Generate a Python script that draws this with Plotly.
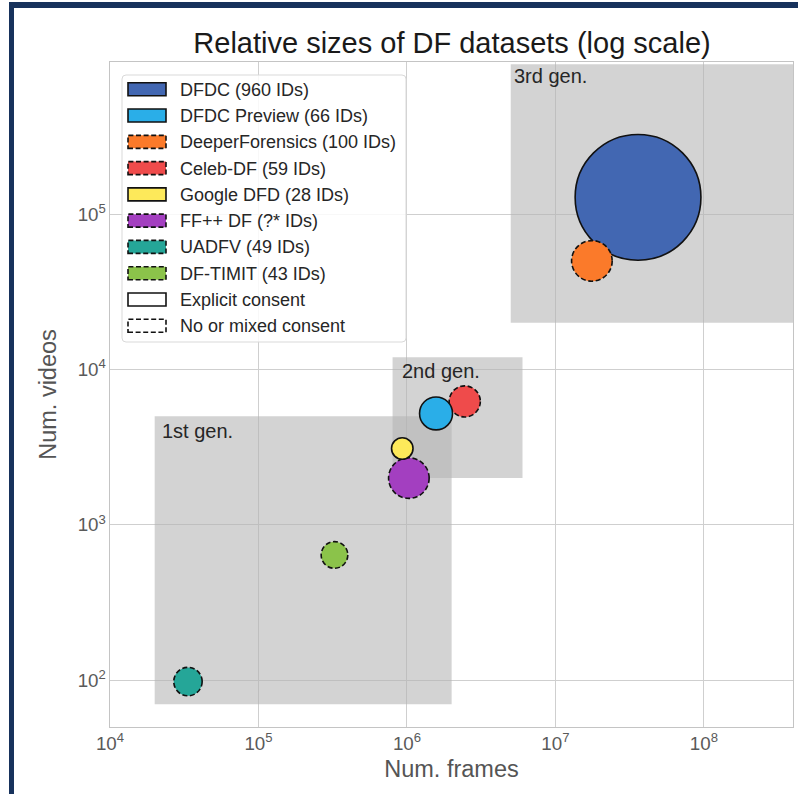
import numpy as np
import plotly.graph_objects as go

# ---------------- data ----------------
dataset_names = ["DFDC (960 IDs)", "DFDC Preview (66 IDs)", "DeeperForensics (100 IDs)",
                 "Celeb-DF (59 IDs)", "Google DFD (28 IDs)", "FF++ DF (?* IDs)",
                 "UADFV (49 IDs)", "DF-TIMIT (43 IDs)"]
num_frames = [3.6e7, 1.57e6, 1.76e7, 2.45e6, 9.3e5, 1.03e6, 3.35e4, 3.25e5]
num_videos = [128154, 5214, 50000, 6229, 3100, 2000, 98, 640]
num_ids = [960, 66, 100, 59, 28, 100, 49, 43]
explicit_consent = [True, True, False, False, True, False, False, False]
colors = ["#4267b2", "#2aaee8", "#fb7a2a", "#ef4b4b", "#fde95a", "#a33fc0", "#25a698", "#8bc34a"]
draw_order = [0, 2, 3, 1, 5, 4, 6, 7]

gen_labels = ["1st gen.", "2nd gen.", "3rd gen."]
gen_x0 = [2e4, 8e5, 5e6]
gen_x1 = [2e6, 6e6, 1e9]
gen_y0 = [70, 2e3, 2e4]
gen_y1 = [5e3, 1.2e4, 9.2e5]

consent_labels = ["Explicit consent", "No or mixed consent"]

# ---------------- layout geometry ----------------
W, H = 798, 794
ML, MR, MT, MB = 110, 5, 62, 67
PW, PH = W - ML - MR, H - MT - MB
FONT = "Liberation Sans, Arial, sans-serif"
XR = [4, 8.6]
YR = [1.699, 5.979]


def PX(p):
    return (p - ML) / PW


def PY(p):
    return (MT + PH - p) / PH


R_SCALE = 2.03
DASH = "5px,2.6px"

fig = go.Figure()
fig.add_trace(go.Scatter(x=num_frames, y=num_videos, mode="markers",
                         marker=dict(size=[2 * R_SCALE * np.sqrt(v) for v in num_ids], opacity=0),
                         text=dataset_names, hoverinfo="text+x+y", showlegend=False))
# helper (linear, log10-valued) overlay axes used to anchor the pixel-sized bubbles
fig.add_trace(go.Scatter(x=[None], y=[None], xaxis="x2", yaxis="y2", showlegend=False,
                         hoverinfo="skip"))

shapes = []
# generation regions
for i in range(3):
    shapes.append(dict(type="rect", xref="x", yref="y", x0=gen_x0[i], x1=gen_x1[i],
                       y0=gen_y0[i], y1=gen_y1[i], fillcolor="rgba(180,180,180,0.58)",
                       line=dict(width=0), layer="between"))
# bubbles (area proportional to number of identities)
for i in draw_order:
    r = R_SCALE * np.sqrt(num_ids[i])
    shapes.append(dict(type="circle", xref="x2", yref="y2", xsizemode="pixel", ysizemode="pixel",
                       xanchor=float(np.log10(num_frames[i])), yanchor=float(np.log10(num_videos[i])),
                       x0=-r, x1=r, y0=-r, y1=r, fillcolor=colors[i],
                       line=dict(color="#111111", width=1.6,
                                 dash="solid" if explicit_consent[i] else DASH),
                       layer="above"))

# legend box (rounded)
bx0, bx1, by0, by1, rr = 122, 406, 75, 342, 4
path = (f"M{PX(bx0+rr)},{PY(by0)} L{PX(bx1-rr)},{PY(by0)} Q{PX(bx1)},{PY(by0)} {PX(bx1)},{PY(by0+rr)} "
        f"L{PX(bx1)},{PY(by1-rr)} Q{PX(bx1)},{PY(by1)} {PX(bx1-rr)},{PY(by1)} "
        f"L{PX(bx0+rr)},{PY(by1)} Q{PX(bx0)},{PY(by1)} {PX(bx0)},{PY(by1-rr)} "
        f"L{PX(bx0)},{PY(by0+rr)} Q{PX(bx0)},{PY(by0)} {PX(bx0+rr)},{PY(by0)} Z")
shapes.append(dict(type="path", xref="paper", yref="paper", path=path,
                   fillcolor="rgba(255,255,255,0.85)", line=dict(color="#d9d9d9", width=1), layer="above"))

annotations = []
entries = [(dataset_names[i], colors[i], explicit_consent[i]) for i in range(len(dataset_names))]
entries += [(consent_labels[0], "white", True), (consent_labels[1], "white", False)]
cy0, dy = 89.3, 26.27
for k, (lab, col, solid) in enumerate(entries):
    cy = cy0 + k * dy
    shapes.append(dict(type="rect", xref="paper", yref="paper", x0=PX(128), x1=PX(166),
                       y0=PY(cy + 6.5), y1=PY(cy - 6.5), fillcolor=col,
                       line=dict(color="#111111", width=1.6, dash="solid" if solid else DASH),
                       layer="above"))
    annotations.append(dict(xref="paper", yref="paper", x=PX(178), y=PY(cy + 0.5), xanchor="left",
                            yanchor="middle", text=lab, showarrow=False,
                            font=dict(family=FONT, size=18, color="#262626")))

# generation labels
gen_dx = [5, 7, 1]
gen_dy = [2, 1, -1]
for i in range(3):
    annotations.append(dict(xref="x", yref="y", x=np.log10(gen_x0[i]),
                            y=min(np.log10(gen_y1[i]), YR[1]),
                            xanchor="left", yanchor="top", xshift=gen_dx[i], yshift=-gen_dy[i],
                            text=gen_labels[i], showarrow=False,
                            font=dict(family=FONT, size=20, color="#262626")))

# navy frame
NAVY = "#17325c"
shapes.append(dict(type="rect", xref="paper", yref="paper", x0=PX(9), x1=PX(14), y0=PY(H), y1=PY(2),
                   fillcolor=NAVY, line=dict(width=0), layer="above"))
shapes.append(dict(type="rect", xref="paper", yref="paper", x0=PX(9), x1=PX(W), y0=PY(8), y1=PY(2),
                   fillcolor=NAVY, line=dict(width=0), layer="above"))

axis_common = dict(type="log", dtick=1, exponentformat="power", showexponent="all",
                   showgrid=True, gridcolor="#cfcfcf", gridwidth=1.1,
                   showline=True, linecolor="#c4c4c4", linewidth=1.3, mirror=True,
                   ticks="", zeroline=False,
                   tickfont=dict(family=FONT, size=15, color="#5a5a5a"))

fig.update_layout(
    width=W, height=H, margin=dict(l=ML, r=MR, t=MT, b=MB, autoexpand=False),
    paper_bgcolor="white", plot_bgcolor="white",
    title=dict(text="Relative sizes of DF datasets (log scale)", x=PX(452), xref="paper",
               xanchor="center", y=1 - 43 / H, yref="container", yanchor="middle",
               font=dict(family=FONT, size=29, color="#1a1a1a")),
    xaxis=dict(range=XR, title=dict(text="Num. frames", standoff=7,
               font=dict(family=FONT, size=23.5, color="#555555")), **axis_common),
    yaxis=dict(range=YR, title=dict(text="Num. videos", standoff=14,
               font=dict(family=FONT, size=23.5, color="#555555")), **axis_common),
    xaxis2=dict(range=XR, overlaying="x", visible=False, fixedrange=True),
    yaxis2=dict(range=YR, overlaying="y", visible=False, fixedrange=True),
    shapes=shapes, annotations=annotations, showlegend=False,
)

fig.write_html("out.html", config={"displayModeBar": False},
               post_script="document.body.style.margin='0';document.body.style.overflow='hidden';")
